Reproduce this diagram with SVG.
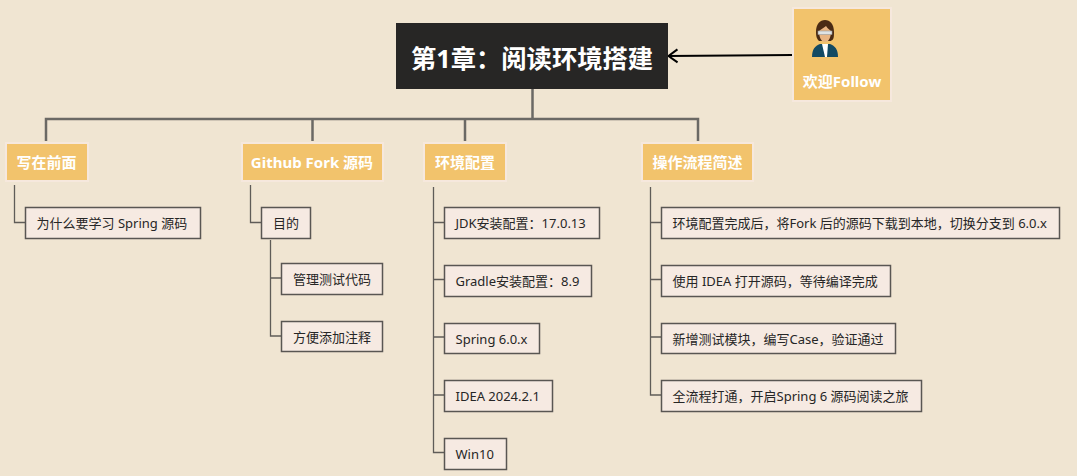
<svg xmlns="http://www.w3.org/2000/svg" width="1077" height="476" viewBox="0 0 1077 476">
<style>
text{font-family:"Noto Sans","Noto Sans CJK SC",sans-serif}
.l1 rect{fill:#f2c36c;stroke:#f6e8dd;stroke-width:2}
.l1 text{fill:#fff;font-size:15px;font-weight:700;text-anchor:middle}
.leaf rect{fill:#f6eae2;stroke:#595653;stroke-width:1.5}
.leaf text{fill:#262626;font-size:13px}
.trunk{fill:none;stroke:#6b6965;stroke-width:2.5}
.thin{fill:none;stroke:#5f5c58;stroke-width:1.3}
</style>
<defs>
<marker id="open" markerUnits="userSpaceOnUse" markerWidth="14" markerHeight="16" refX="12" refY="8" orient="auto"><path d="M2.500 1.500 11.500 8 2.500 14.500" fill="none" stroke="#000" stroke-width="2"/></marker>
</defs>
<rect width="1077" height="476" fill="#f0e5d2"/>
<g id="connectors">
<path class="trunk" d="M532.500 89V119M46 141V119H698V141M312.500 141V119M465 141V119"/>
<path class="thin" d="M14.500 185V222.500H25M250.500 185V222.500H261M270.500 240V278H281M270.500 278V336H281"/>
<path class="thin" d="M433.500 187V452.500H444M433.500 222.500H444M433.500 279.500H444M433.500 337H444M433.500 395H444"/>
<path class="thin" d="M650.500 187V395H661M650.500 222.500H661M650.500 279.500H661M650.500 337H661"/>
<path d="M792 55 668 56" fill="none" stroke="#000" stroke-width="2" marker-end="url(#open)"/>
</g>
<g id="root"><rect x="396" y="23" width="272" height="66" fill="#272625"/><text x="532" y="68" font-size="25.300" font-weight="700" fill="#fff" text-anchor="middle">第1章&#xFF1A;阅读环境搭建</text></g>
<g id="follow">
<rect x="793" y="8" width="98" height="93" fill="#f2c36c" stroke="#f6e8dd" stroke-width="2"/>
<path d="M812 57C812 49 815 46 820 44H830C835 46 838 49 838 57Z" fill="#134a63"/>
<path d="M822 44 825 57H827L828 44Z" fill="#fff"/>
<path d="M816 32C816 24 820 20 825 20S834 24 834 32 833 39 831 41H819C817 39 816 37 816 32Z" fill="#4a2b14"/>
<path d="M819 31C821 29 824 28 826 26 828 29 830 30 831 31 831 37 829 42 825 42S819 37 819 31Z" fill="#e9b582"/>
<rect x="818" y="31" width="14" height="3.500" fill="#dfe3e3" stroke="#9a9a9a" stroke-width=".6"/>
<text x="842" y="87" font-size="15" font-weight="700" fill="#fff" text-anchor="middle">欢迎Follow</text>
</g>
<g id="n1" class="l1"><rect x="6" y="143" width="82" height="38"/><text x="46.500" y="168">写在前面</text></g>
<g id="n2" class="l1"><rect x="242" y="143" width="141" height="38"/><text x="312" y="168">Github Fork 源码</text></g>
<g id="n3" class="l1"><rect x="424" y="143" width="82" height="38"/><text x="465" y="168">环境配置</text></g>
<g id="n4" class="l1"><rect x="642" y="143" width="111" height="38"/><text x="697.500" y="168">操作流程简述</text></g>
<g id="n11" class="leaf"><rect x="25.500" y="207.500" width="175" height="31"/><text x="36.500" y="228">为什么要学习 Spring 源码</text></g>
<g id="n21" class="leaf"><rect x="261.500" y="207.500" width="49" height="31"/><text x="273" y="228">目的</text></g>
<g id="n211" class="leaf"><rect x="281.500" y="263.500" width="101" height="31"/><text x="293" y="284">管理测试代码</text></g>
<g id="n212" class="leaf"><rect x="281.500" y="321.500" width="101" height="30"/><text x="293" y="341.500">方便添加注释</text></g>
<g id="n31" class="leaf"><rect x="444.500" y="207.500" width="155" height="31"/><text x="455.500" y="228">JDK安装配置&#xFF1A;17.0.13</text></g>
<g id="n32" class="leaf"><rect x="444.500" y="265.500" width="147" height="31"/><text x="455.500" y="286">Gradle安装配置&#xFF1A;8.9</text></g>
<g id="n33" class="leaf"><rect x="444.500" y="323.500" width="95" height="30"/><text x="455.500" y="343.500">Spring 6.0.x</text></g>
<g id="n34" class="leaf"><rect x="444.500" y="380.500" width="108" height="31"/><text x="455.500" y="401">IDEA 2024.2.1</text></g>
<g id="n35" class="leaf"><rect x="444.500" y="438.500" width="62" height="31"/><text x="455.500" y="459">Win10</text></g>
<g id="n41" class="leaf"><rect x="661.500" y="207.500" width="398" height="31"/><text x="672.500" y="228">环境配置完成后&#xFF0C;将Fork 后的源码下载到本地&#xFF0C;切换分支到 6.0.x</text></g>
<g id="n42" class="leaf"><rect x="661.500" y="265.500" width="229" height="31"/><text x="672.500" y="286">使用 IDEA 打开源码&#xFF0C;等待编译完成</text></g>
<g id="n43" class="leaf"><rect x="661.500" y="323.500" width="234" height="30"/><text x="672.500" y="343.500">新增测试模块&#xFF0C;编写Case&#xFF0C;验证通过</text></g>
<g id="n44" class="leaf"><rect x="661.500" y="380.500" width="260" height="31"/><text x="672.500" y="401">全流程打通&#xFF0C;开启Spring 6 源码阅读之旅</text></g>
</svg>
